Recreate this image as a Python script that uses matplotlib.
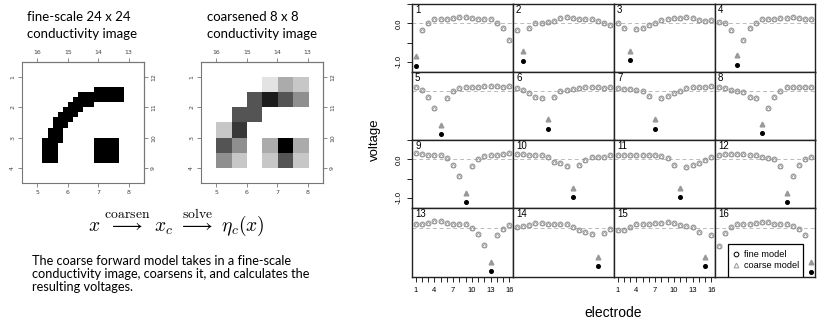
import numpy as np
import matplotlib
matplotlib.use('Agg')
import matplotlib.pyplot as plt
from matplotlib.lines import Line2D
from matplotlib.patches import Rectangle

# ---- data ----
# fine 24x24 image: black runs (row, first col, last col)
fine_runs = [(5, 14, 19), (6, 11, 19), (7, 10, 19), (8, 9, 13), (9, 8, 11),
             (10, 7, 10), (11, 6, 9), (12, 6, 8), (13, 5, 7), (14, 5, 7),
             (15, 4, 7), (15, 14, 18), (16, 4, 6), (16, 14, 18), (17, 4, 6),
             (17, 14, 18), (18, 4, 6), (18, 14, 18), (19, 4, 6), (19, 14, 18)]

# coarse 8x8 image (darkness 0..1)
coarse_img = [
    [0, 0, 0, 0, 0, 0, 0, 0],
    [0, 0, 0, 0, 0.11, 0.33, 0.22, 0],
    [0, 0, 0, 0.67, 0.89, 0.67, 0.44, 0],
    [0, 0, 0.67, 0.67, 0, 0, 0, 0],
    [0, 0.22, 0.78, 0, 0, 0, 0, 0],
    [0, 0.67, 0.44, 0, 0.33, 1.0, 0.33, 0],
    [0, 0.44, 0.22, 0, 0.22, 0.67, 0.22, 0],
    [0, 0, 0, 0, 0, 0, 0, 0],
]

img_ticks = [5, 6, 7, 8]
bottom_labels = ['5', '6', '7', '8']
top_labels = ['16', '15', '14', '13']
left_labels = ['1', '2', '3', '4']
right_labels = ['12', '11', '10', '9']

electrodes = np.arange(1, 17)

# fine-model voltages, one row per injection panel
fine = [
    [-1.10, -0.17, 0.00, 0.10, 0.10, 0.10, 0.13, 0.16, 0.16, 0.14, 0.11, 0.11, 0.10, 0.02, -0.13, -0.43],
    [-0.17, -0.97, -0.11, 0.00, 0.02, 0.04, 0.07, 0.13, 0.16, 0.13, 0.11, 0.11, 0.10, 0.06, 0.00, -0.04],
    [0.02, -0.13, -0.96, -0.16, -0.13, -0.04, 0.02, 0.09, 0.11, 0.13, 0.15, 0.17, 0.13, 0.09, 0.06, 0.09],
    [0.04, 0.00, -0.17, -1.09, -0.43, -0.13, 0.02, 0.10, 0.12, 0.12, 0.14, 0.14, 0.16, 0.14, 0.12, 0.11],
    [0.10, 0.03, -0.14, -0.43, -1.10, -0.17, 0.00, 0.08, 0.10, 0.10, 0.11, 0.13, 0.14, 0.13, 0.12, 0.13],
    [0.08, 0.03, -0.05, -0.14, -0.18, -0.97, -0.14, 0.00, 0.03, 0.06, 0.08, 0.10, 0.12, 0.10, 0.09, 0.10],
    [0.08, 0.05, 0.05, 0.03, 0.02, -0.12, -0.97, -0.18, -0.12, -0.05, 0.02, 0.08, 0.10, 0.12, 0.10, 0.14],
    [0.10, 0.08, 0.03, 0.02, -0.01, -0.14, -0.17, -1.09, -0.43, -0.14, 0.02, 0.10, 0.10, 0.10, 0.10, 0.11],
    [0.16, 0.13, 0.11, 0.11, 0.11, 0.03, -0.15, -0.43, -1.10, -0.17, 0.00, 0.09, 0.10, 0.10, 0.13, 0.16],
    [0.14, 0.13, 0.11, 0.11, 0.10, 0.05, -0.06, -0.10, -0.17, -0.97, -0.15, -0.02, 0.05, 0.05, 0.07, 0.11],
    [0.11, 0.10, 0.10, 0.12, 0.12, 0.10, 0.10, 0.08, 0.03, -0.15, -0.97, -0.19, -0.15, -0.09, -0.02, 0.05],
    [0.11, 0.14, 0.14, 0.14, 0.14, 0.11, 0.10, 0.07, 0.03, 0.00, -0.17, -1.10, -0.43, -0.15, 0.00, 0.07],
    [0.09, 0.09, 0.12, 0.17, 0.17, 0.13, 0.10, 0.10, 0.10, 0.00, -0.16, -0.44, -1.11, -0.20, -0.03, 0.06],
    [0.02, 0.03, 0.06, 0.12, 0.12, 0.10, 0.10, 0.10, 0.09, 0.02, -0.07, -0.11, -0.17, -0.98, -0.14, -0.03],
    [-0.05, -0.07, 0.02, 0.08, 0.10, 0.10, 0.12, 0.12, 0.15, 0.12, 0.06, 0.03, 0.02, -0.11, -0.98, -0.20],
    [-0.46, -0.14, 0.02, 0.09, 0.10, 0.10, 0.12, 0.15, 0.15, 0.10, 0.10, 0.09, 0.03, -0.03, -0.20, -1.13],
]
# coarse-model voltage at the injection electrode (elsewhere it sits on the fine one)
coarse_inj = [-0.85, -0.72, -0.71, -0.83, -0.86, -0.72, -0.72, -0.85,
              -0.86, -0.73, -0.73, -0.86, -0.87, -0.75, -0.75, -0.88]

W, H = 822, 320


def box(x0, y0, x1, y1):
    return [x0 / W, 1 - y1 / H, (x1 - x0) / W, (y1 - y0) / H]


fig = plt.figure(figsize=(W / 100, H / 100), dpi=100)
txt_font = ['Lato', 'DejaVu Sans']
r_font = ['Liberation Sans', 'DejaVu Sans']

# ---- left: the two conductivity images ----
fine_img = np.zeros((24, 24))
for r, a, b in fine_runs:
    fine_img[r, a:b + 1] = 1


def image_axes(rect, data):
    ax = fig.add_axes(rect)
    ax.imshow(data, cmap='gray_r', vmin=0, vmax=1, extent=(4.5, 8.5, 4.5, 0.5),
              interpolation='nearest', aspect='auto')
    ax.set_xlim(4.5, 8.5)
    ax.set_ylim(4.5, 0.5)
    ax.set_xticks(img_ticks, bottom_labels)
    ax.set_yticks([1, 2, 3, 4], left_labels, rotation=90, va='center')
    top = ax.secondary_xaxis('top')
    top.set_xticks(img_ticks, top_labels)
    right = ax.secondary_yaxis('right')
    right.set_yticks([1, 2, 3, 4], right_labels, rotation=90, va='center')
    for a in (ax, top, right):
        a.tick_params(length=3, width=0.6, color='#777777', labelsize=4.5,
                      labelcolor='#444444', pad=2)
        for s in a.spines.values():
            s.set_color('#777777')
            s.set_linewidth(0.8)
    return ax


image_axes(box(22, 62, 144, 183), fine_img)
image_axes(box(201, 62, 323, 183), np.array(coarse_img))

fig.text(27 / W, 1 - 17 / H, 'fine-scale 24 x 24', va='center', fontsize=9.5, family=txt_font)
fig.text(27 / W, 1 - 34 / H, 'conductivity image', va='center', fontsize=9.5, family=txt_font)
fig.text(207 / W, 1 - 17 / H, 'coarsened 8 x 8', va='center', fontsize=9.5, family=txt_font)
fig.text(207 / W, 1 - 34 / H, 'conductivity image', va='center', fontsize=9.5, family=txt_font)

fig.text(176 / W, 1 - 231 / H,
         r'$x\ \overset{\mathrm{coarsen}}{\longrightarrow}\ x_c\ \overset{\mathrm{solve}}{\longrightarrow}\ \eta_c(x)$',
         ha='center', va='baseline', fontsize=14, math_fontfamily='cm')

para = ['The coarse forward model takes in a fine-scale',
        'conductivity image, coarsens it, and calculates the',
        'resulting voltages.']
for i, line in enumerate(para):
    fig.text(32 / W, 1 - (261 + 13 * i) / H, line, va='center', fontsize=9.2, family=txt_font)

# ---- right: 4x4 lattice of voltage panels ----
col_x = [412, 513, 614, 715, 815]
row_y = [4, 72, 140, 208, 277]
xlab = ['1', '', '', '4', '', '', '7', '', '', '10', '', '', '13', '', '', '16']

for k in range(16):
    r, c = divmod(k, 4)
    ax = fig.add_axes(box(col_x[c], row_y[r], col_x[c + 1], row_y[r + 1]))
    ax.set_xlim(0.4, 16.6)
    ax.set_ylim(-1.26, 0.5)
    ax.axhline(0, color='#bbbbbb', ls=(0, (4, 3)), lw=0.7, zorder=1)
    vals = np.array(fine[k])
    m = electrodes != k + 1
    ax.plot(electrodes[m], vals[m], 'o', mfc='none', mec='#8a8a8a', ms=3.5, mew=0.7, zorder=3)
    ax.plot(electrodes[m], vals[m], '^', mfc='none', mec='#9a9a9a', ms=2.9, mew=0.6, zorder=3)
    ax.plot(k + 1, vals[k], 'o', color='black', ms=2.6, zorder=4)
    ax.plot(k + 1, coarse_inj[k], '^', color='#999999', ms=3.4, zorder=4)
    ax.text(0.03, 0.99, str(k + 1), transform=ax.transAxes, va='top', ha='left',
            fontsize=7, family=r_font)

    ax.tick_params(direction='out', length=3.5, width=0.6, labelsize=5.5, pad=3.5)
    if c == 0 and r in (0, 2):
        ax.set_yticks([-1, -0.5, 0, 0.5], ['-1.0', '', '0.0', ''],
                      rotation=90, va='center', family=r_font)
    else:
        ax.set_yticks([])
    if r == 3 and c in (0, 2):
        ax.set_xticks(electrodes, xlab, family=r_font)
    else:
        ax.set_xticks([])
    for s in ax.spines.values():
        s.set_linewidth(1.0)
        s.set_color('#222222')

    if k == 15:
        ax.add_patch(Rectangle((0.13, 0.0), 0.75, 0.478, transform=ax.transAxes,
                               facecolor='white', edgecolor='black', lw=0.9, zorder=5))
        handles = [Line2D([], [], ls='none', marker='o', mfc='none', mec='black', ms=3.4, mew=0.7),
                   Line2D([], [], ls='none', marker='^', mfc='none', mec='#999999', ms=3.4, mew=0.7)]
        leg = ax.legend(handles, ['fine model', 'coarse model'], loc='center left',
                        bbox_to_anchor=(0.13, 0.245), borderaxespad=0,
                        prop={'family': r_font, 'size': 6.6},
                        handlelength=0.8, handletextpad=0.5, labelspacing=0.2,
                        borderpad=0.45, frameon=False)
        leg.set_zorder(6)

fig.text(613 / W, 1 - 313 / H, 'electrode', ha='center', va='center', fontsize=10, family=r_font)
fig.text(375 / W, 1 - 140 / H, 'voltage', ha='center', va='center', rotation=90,
         fontsize=9.5, family=r_font)

fig.savefig('out.png', dpi=100)
